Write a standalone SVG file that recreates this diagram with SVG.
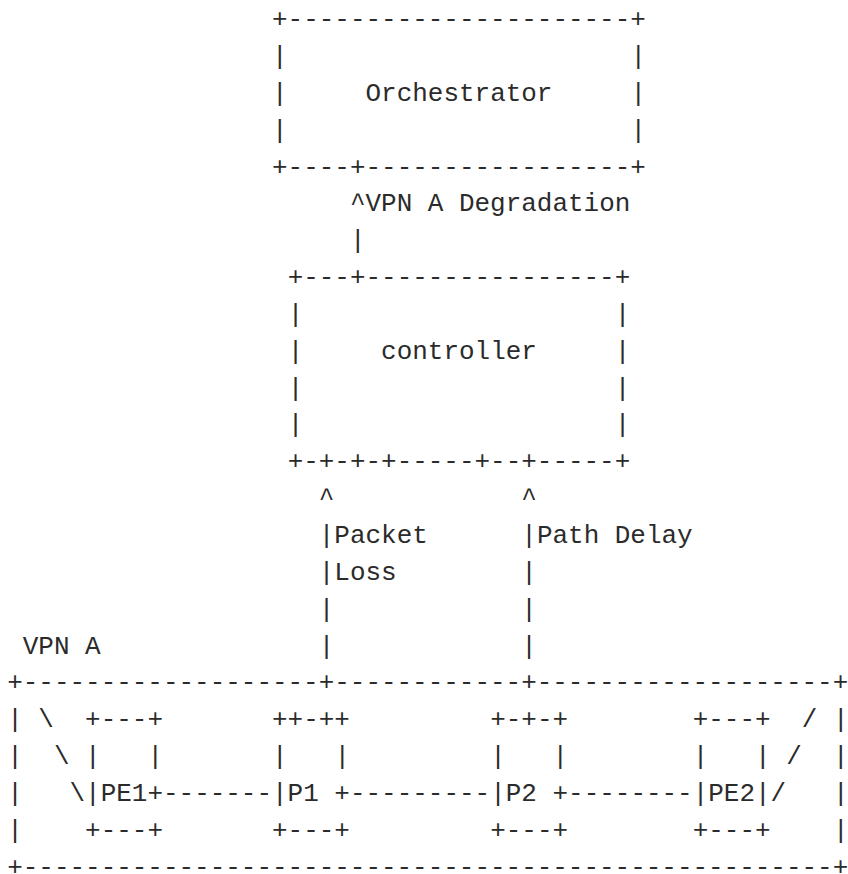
<svg xmlns="http://www.w3.org/2000/svg" width="848" height="874" viewBox="0 0 848 874" xml:space="preserve">
<style>
text{font-family:"Liberation Mono","DejaVu Sans Mono",monospace;font-size:25.96px;fill:#2b2b2b;white-space:pre}
</style>
<rect width="848" height="874" fill="#ffffff"/>
<g id="orchestrator">
<text x="272.06" y="27.1">+----------------------+</text>
<text x="272.06" y="63.95">|</text><text x="630.4" y="63.95">|</text>
<text x="272.06" y="100.8">|</text><text x="365.54" y="100.8">Orchestrator</text><text x="630.4" y="100.8">|</text>
<text x="272.06" y="137.65">|</text><text x="630.4" y="137.65">|</text>
<text x="272.06" y="174.5">+----+-----------------+</text>
</g>
<g id="controller">
<text x="287.64" y="285.05">+---+----------------+</text>
<text x="287.64" y="321.9">|</text><text x="614.82" y="321.9">|</text>
<text x="287.64" y="358.75">|</text><text x="381.12" y="358.75">controller</text><text x="614.82" y="358.75">|</text>
<text x="287.64" y="395.6">|</text><text x="614.82" y="395.6">|</text>
<text x="287.64" y="432.45">|</text><text x="614.82" y="432.45">|</text>
<text x="287.64" y="469.3">+-+-+-+-----+--+-----+</text>
</g>
<g id="vpn-a">
<text x="22.78" y="653.55">VPN A</text>
<text x="7.2" y="690.4">+-------------------+------------+-------------------+</text>
<text x="7.2" y="727.25">|</text><text x="38.36" y="727.25">\</text><text x="801.78" y="727.25">/</text><text x="832.94" y="727.25">|</text>
<text x="7.2" y="764.1">|</text><text x="53.94" y="764.1">\</text><text x="786.2" y="764.1">/</text><text x="832.94" y="764.1">|</text>
<text x="7.2" y="800.95">|</text><text x="69.52" y="800.95">\</text><text x="770.62" y="800.95">/</text><text x="832.94" y="800.95">|</text>
<text x="7.2" y="837.8">|</text><text x="832.94" y="837.8">|</text>
<text x="7.2" y="874.65">+----------------------------------------------------+</text>
</g>
<g id="pe1">
<text x="85.1" y="727.25">+---+</text>
<text x="85.1" y="764.1">|</text><text x="147.42" y="764.1">|</text>
<text x="85.1" y="800.95">|PE1+</text>
<text x="85.1" y="837.8">+---+</text>
</g>
<g id="p1">
<text x="272.06" y="727.25">++-++</text>
<text x="272.06" y="764.1">|</text><text x="334.38" y="764.1">|</text>
<text x="272.06" y="800.95">|P1 +</text>
<text x="272.06" y="837.8">+---+</text>
</g>
<g id="p2">
<text x="490.18" y="727.25">+-+-+</text>
<text x="490.18" y="764.1">|</text><text x="552.5" y="764.1">|</text>
<text x="490.18" y="800.95">|P2 +</text>
<text x="490.18" y="837.8">+---+</text>
</g>
<g id="pe2">
<text x="692.72" y="727.25">+---+</text>
<text x="692.72" y="764.1">|</text><text x="755.04" y="764.1">|</text>
<text x="692.72" y="800.95">|PE2|</text>
<text x="692.72" y="837.8">+---+</text>
</g>
<g id="connectors">
<text x="349.96" y="211.35">^VPN A Degradation</text>
<text x="349.96" y="248.2">|</text>
<text x="318.8" y="506.15">^</text><text x="521.34" y="506.15">^</text>
<text x="318.8" y="543">|Packet</text><text x="521.34" y="543">|Path Delay</text>
<text x="318.8" y="579.85">|Loss</text><text x="521.34" y="579.85">|</text>
<text x="318.8" y="616.7">|</text><text x="521.34" y="616.7">|</text>
<text x="318.8" y="653.55">|</text><text x="521.34" y="653.55">|</text>
<text x="163" y="800.95">-------</text>
<text x="349.96" y="800.95">---------</text>
<text x="568.08" y="800.95">--------</text>
</g>
</svg>
